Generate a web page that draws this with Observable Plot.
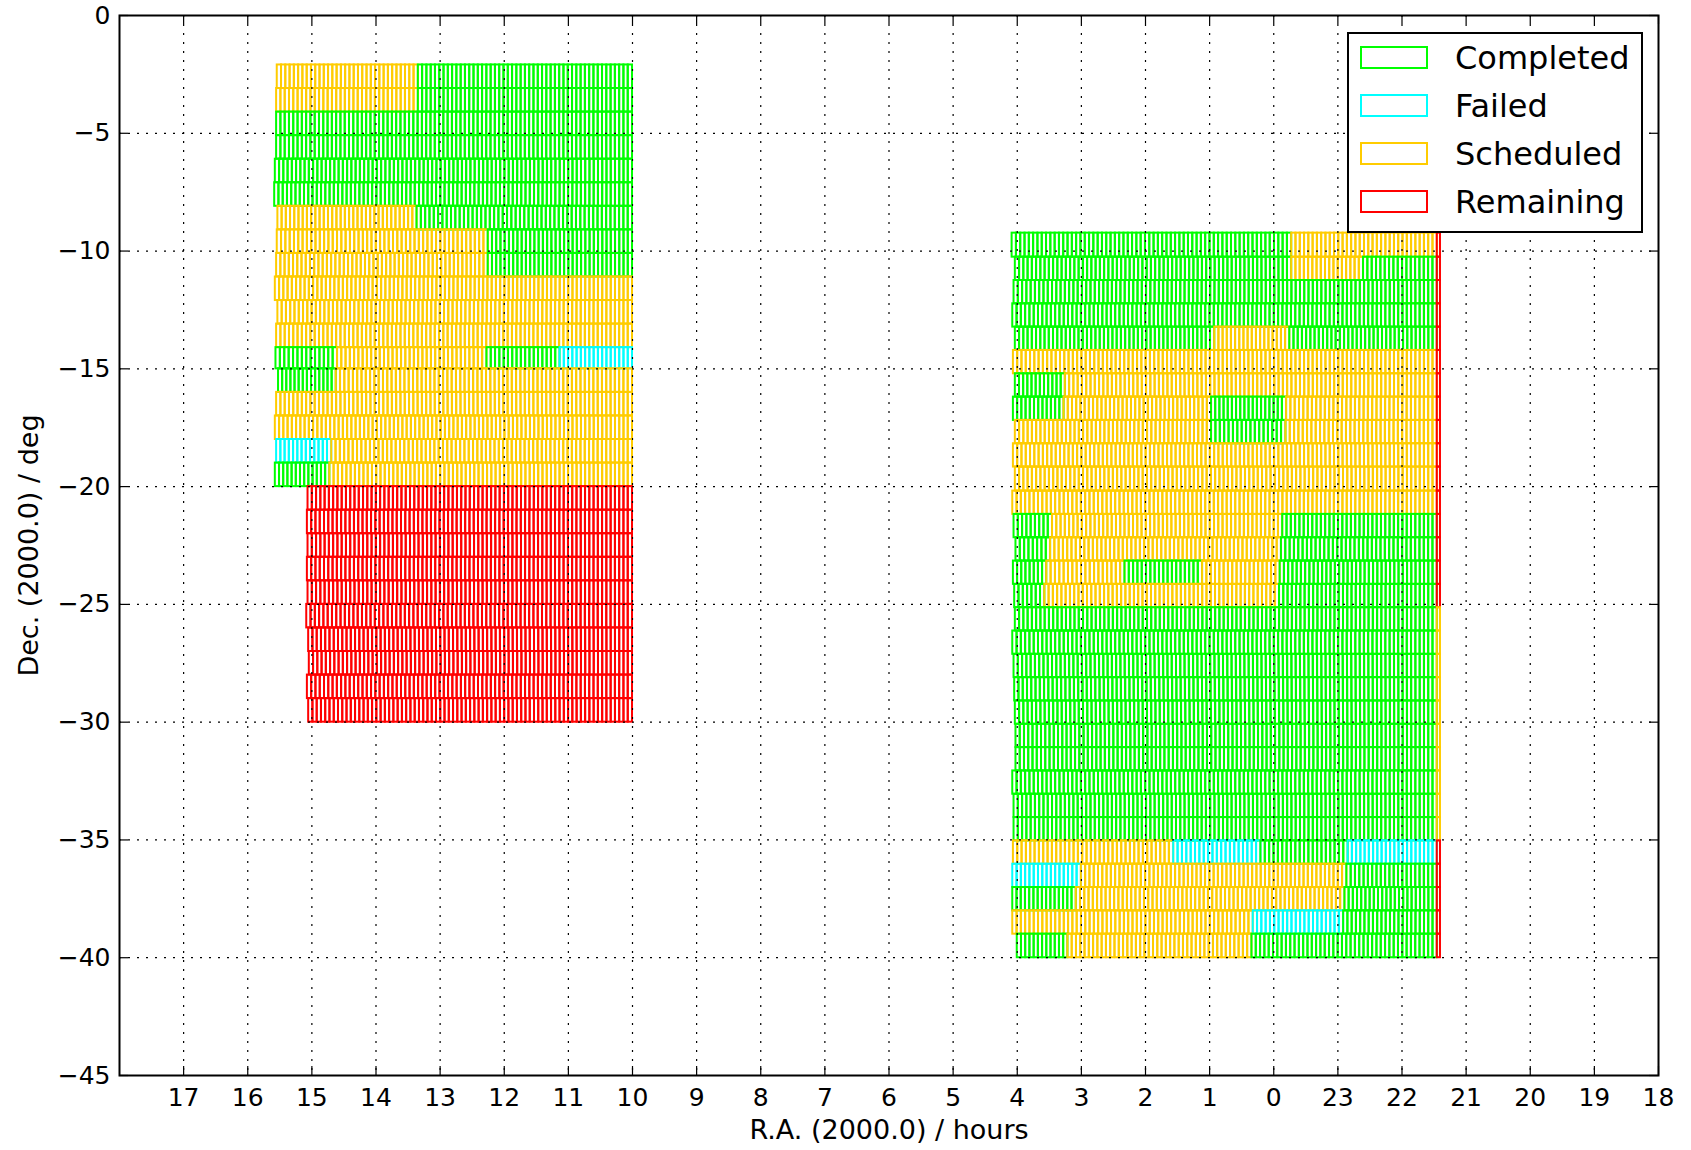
<!DOCTYPE html>
<html>
<head>
<meta charset="utf-8">
<script src="https://cdn.jsdelivr.net/npm/d3@7"></script>
<script src="https://cdn.jsdelivr.net/npm/@observablehq/plot@0.6"></script>
<style>
  html, body { margin: 0; padding: 0; background: #fff; }
  #wrap { position: relative; width: 1691px; height: 1150px; font-family: "DejaVu Sans", sans-serif; }
  #legend { position: absolute; left: 1347px; top: 32px; width: 292px; height: 197px; border: 2px solid #000; background: #fff; }
  .sw { position: absolute; left: 11px; width: 64px; height: 19px; border: 2px solid; }
  .lt { position: absolute; left: 106px; font-size: 32px; line-height: 32px; color: #000; white-space: nowrap; }
</style>
</head>
<body>
<div id="wrap"></div>
<script>
// ---- categories / styles ----
const statusCodes = ["C", "F", "S", "R"];
const statusNames = ["Completed", "Failed", "Scheduled", "Remaining"];
const statusColors = ["#00ff00", "#00ffff", "#ffcc00", "#ff0000"];

// ---- axis ticks ----
const xTicks = [17,16,15,14,13,12,11,10,9,8,7,6,5,4,3,2,1,0,-1,-2,-3,-4,-5,-6];
const xTickLabels = ["17","16","15","14","13","12","11","10","9","8","7","6","5","4","3","2","1","0","23","22","21","20","19","18"];
const yTicks = [0,-5,-10,-15,-20,-25,-30,-35,-40,-45];

// ---- left block (R.A. 15.5h - 10h): row edges in Dec (deg) ----
const leftRowEdges = [-2.1,-3.1,-4.1,-5.1,-6.1,-7.1,-8.1,-9.1,-10.1,-11.1,-12.1,-13.1,-14.1,-15.0,-16.0,-17.0,-18.0,-19.0,-20.0,-21.0,-22.0,-23.0,-24.0,-25.0,-26.0,-27.0,-28.0,-29.0,-30.0];
// segments per row: [R.A. start (h), R.A. end (h), status]
const leftRowSegments = [
  [[15.54,13.34,"S"],[13.34,10,"C"]],
  [[15.55,13.34,"S"],[13.34,10,"C"]],
  [[15.55,10,"C"]],
  [[15.55,10,"C"]],
  [[15.57,10,"C"]],
  [[15.58,10,"C"]],
  [[15.53,13.36,"S"],[13.36,10,"C"]],
  [[15.54,12.25,"S"],[12.25,10,"C"]],
  [[15.55,12.25,"S"],[12.25,10,"C"]],
  [[15.57,10,"S"]],
  [[15.53,10,"S"]],
  [[15.55,10,"S"]],
  [[15.56,14.60,"C"],[14.60,12.27,"S"],[12.27,11.13,"C"],[11.13,10,"F"]],
  [[15.52,14.62,"C"],[14.62,10,"S"]],
  [[15.55,10,"S"]],
  [[15.57,10,"S"]],
  [[15.55,14.69,"F"],[14.69,10,"S"]],
  [[15.57,14.72,"C"],[14.72,10,"S"]],
  [[15.06,10,"R"]],
  [[15.07,10,"R"]],
  [[15.06,10,"R"]],
  [[15.07,10,"R"]],
  [[15.06,10,"R"]],
  [[15.08,10,"R"]],
  [[15.05,10,"R"]],
  [[15.04,10,"R"]],
  [[15.07,10,"R"]],
  [[15.05,10,"R"]]
];

// ---- right block (R.A. 4h - 21.45h) ----
const rightRowEdges = [-9.24,-10.26,-11.25,-12.24,-13.23,-14.22,-15.21,-16.2,-17.19,-18.18,-19.17,-20.19,-21.18,-22.17,-23.16,-24.15,-25.14,-26.13,-27.12,-28.11,-29.1,-30.09,-31.08,-32.07,-33.06,-34.05,-35.04,-36.03,-37.02,-38.01,-39.0,-40.0];
const rightRowSegments = [
  [[4.08,23.72,"C"],[23.72,21.45,"S"]],
  [[4.03,23.72,"C"],[23.72,22.60,"S"],[22.60,21.45,"C"]],
  [[4.05,21.45,"C"]],
  [[4.07,21.45,"C"]],
  [[4.03,0.92,"C"],[0.92,23.75,"S"],[23.75,21.45,"C"]],
  [[4.06,21.45,"S"]],
  [[4.03,3.25,"C"],[3.25,21.45,"S"]],
  [[4.06,3.27,"C"],[3.27,0.97,"S"],[0.97,23.80,"C"],[23.80,21.45,"S"]],
  [[4.03,0.97,"S"],[0.97,23.81,"C"],[23.81,21.45,"S"]],
  [[4.06,21.45,"S"]],
  [[4.03,21.45,"S"]],
  [[4.07,21.45,"S"]],
  [[4.05,3.45,"C"],[3.45,23.86,"S"],[23.86,21.45,"C"]],
  [[4.02,3.48,"C"],[3.48,23.88,"S"],[23.88,21.45,"C"]],
  [[4.06,3.54,"C"],[3.54,2.32,"S"],[2.32,1.11,"C"],[1.11,23.90,"S"],[23.90,21.45,"C"]],
  [[4.04,3.57,"C"],[3.57,23.91,"S"],[23.91,21.45,"C"]],
  [[4.03,21.45,"C"]],
  [[4.07,21.45,"C"]],
  [[4.05,21.45,"C"]],
  [[4.04,21.45,"C"]],
  [[4.03,21.45,"C"]],
  [[4.02,21.45,"C"]],
  [[4.02,21.45,"C"]],
  [[4.07,21.45,"C"]],
  [[4.05,21.45,"C"]],
  [[4.05,21.45,"C"]],
  [[4.06,1.56,"S"],[1.56,0.20,"F"],[0.20,22.84,"C"],[22.84,21.45,"F"]],
  [[4.07,3.00,"F"],[3.00,22.86,"S"],[22.86,21.45,"C"]],
  [[4.07,3.08,"C"],[3.08,22.89,"S"],[22.89,21.45,"C"]],
  [[4.07,0.32,"S"],[0.32,22.91,"F"],[22.91,21.45,"C"]],
  [[4.00,3.21,"C"],[3.21,0.34,"S"],[0.34,21.45,"C"]]
];
// narrow wrap-around tiles at the right edge of the right block (R.A. 21.45h - 21.40h)
const rightEdgeStatus = ["R","R","R","R","R","R","R","R","R","R","R","R","R","R","R","R","S","S","S","S","S","S","S","S","S","S","R","R","R","R","R"];
const edgeTileRA = [21.45, 21.40];

// ---- nominal field width (hours of R.A.) ----
const fieldsPerHour = 15;

// ---- build the field table ----
const toU = ra => (ra > 18 ? ra - 24 : ra); // continuous axis running 18h -> 0h -> 18h
const nameOf = Object.fromEntries(statusCodes.map((c, i) => [c, statusNames[i]]));
const fields = [];
function addRows(edges, rows) {
  rows.forEach((segs, r) => {
    const top = edges[r], bottom = edges[r + 1];
    segs.forEach(([a, b, s]) => {
      const u1 = toU(a), u2 = toU(b);
      const n = Math.max(1, Math.round((u1 - u2) * fieldsPerHour));
      const w = (u1 - u2) / n;
      for (let i = 0; i < n; i++) {
        fields.push({x1: u1 - i * w, x2: u1 - (i + 1) * w, y1: top, y2: bottom, status: nameOf[s]});
      }
    });
  });
}
addRows(leftRowEdges, leftRowSegments);
addRows(rightRowEdges, rightRowSegments);
rightEdgeStatus.forEach((s, r) => {
  fields.push({x1: toU(edgeTileRA[0]), x2: toU(edgeTileRA[1]), y1: rightRowEdges[r], y2: rightRowEdges[r + 1], status: nameOf[s]});
});

const W = 1691, H = 1150;
const mL = 119, mR = 33, mT = 15, mB = 75;
const frameH = H - mT - mB, frameW = W - mL - mR;
const tickLen = 9;
const fmtX = d => xTickLabels[xTicks.indexOf(d)];

const chart = Plot.plot({
  width: W, height: H,
  marginLeft: mL, marginRight: mR, marginTop: mT, marginBottom: mB,
  style: {fontFamily: "DejaVu Sans", fontSize: "25px", background: "white", color: "black"},
  x: {domain: [18, -6], axis: null},
  y: {domain: [-45, 0], axis: null},
  color: {domain: statusNames, range: statusColors},
  marks: [
    Plot.rect(fields, {x1: "x1", x2: "x2", y1: "y1", y2: "y2", stroke: "status", fill: "none", strokeWidth: 2}),
    Plot.gridX(xTicks.filter(d => d !== -6), {stroke: "black", strokeOpacity: 1, strokeWidth: 1.2, strokeDasharray: "2,7"}),
    Plot.gridY(yTicks.filter(d => d !== 0 && d !== -45), {stroke: "black", strokeOpacity: 1, strokeWidth: 1.2, strokeDasharray: "2,7"}),
    // inward ticks on all four sides
    Plot.tickX(xTicks, {x: d => d, stroke: "black", strokeWidth: 1.2, insetTop: frameH - tickLen}),
    Plot.tickX(xTicks, {x: d => d, stroke: "black", strokeWidth: 1.2, insetBottom: frameH - tickLen}),
    Plot.tickY(yTicks, {y: d => d, stroke: "black", strokeWidth: 1.2, insetRight: frameW - tickLen}),
    Plot.tickY(yTicks, {y: d => d, stroke: "black", strokeWidth: 1.2, insetLeft: frameW - tickLen}),
    Plot.axisX(xTicks, {anchor: "bottom", tickSize: 0, tickPadding: 13, tickFormat: fmtX, fontSize: 25, label: null}),
    Plot.axisY(yTicks, {anchor: "left", tickSize: 0, tickPadding: 9, fontSize: 25, label: null}),
    Plot.frame({stroke: "black", strokeWidth: 2}),
    Plot.text(["R.A. (2000.0) / hours"], {text: d => d, frameAnchor: "bottom", dy: 55, lineAnchor: "middle", textAnchor: "middle", fontSize: 27}),
    Plot.text(["Dec. (2000.0) / deg"], {text: d => d, frameAnchor: "left", dx: -90, rotate: -90, lineAnchor: "middle", textAnchor: "middle", fontSize: 27})
  ]
});

const wrap = document.getElementById("wrap");
wrap.appendChild(chart);

// legend
const legend = document.createElement("div");
legend.id = "legend";
statusNames.forEach((name, i) => {
  const sw = document.createElement("div");
  sw.className = "sw";
  sw.style.top = (12 + i * 48) + "px";
  sw.style.borderColor = statusColors[i];
  const t = document.createElement("div");
  t.className = "lt";
  t.style.top = (8 + i * 48) + "px";
  t.textContent = name;
  legend.appendChild(sw);
  legend.appendChild(t);
});
wrap.appendChild(legend);
</script>
</body>
</html>
